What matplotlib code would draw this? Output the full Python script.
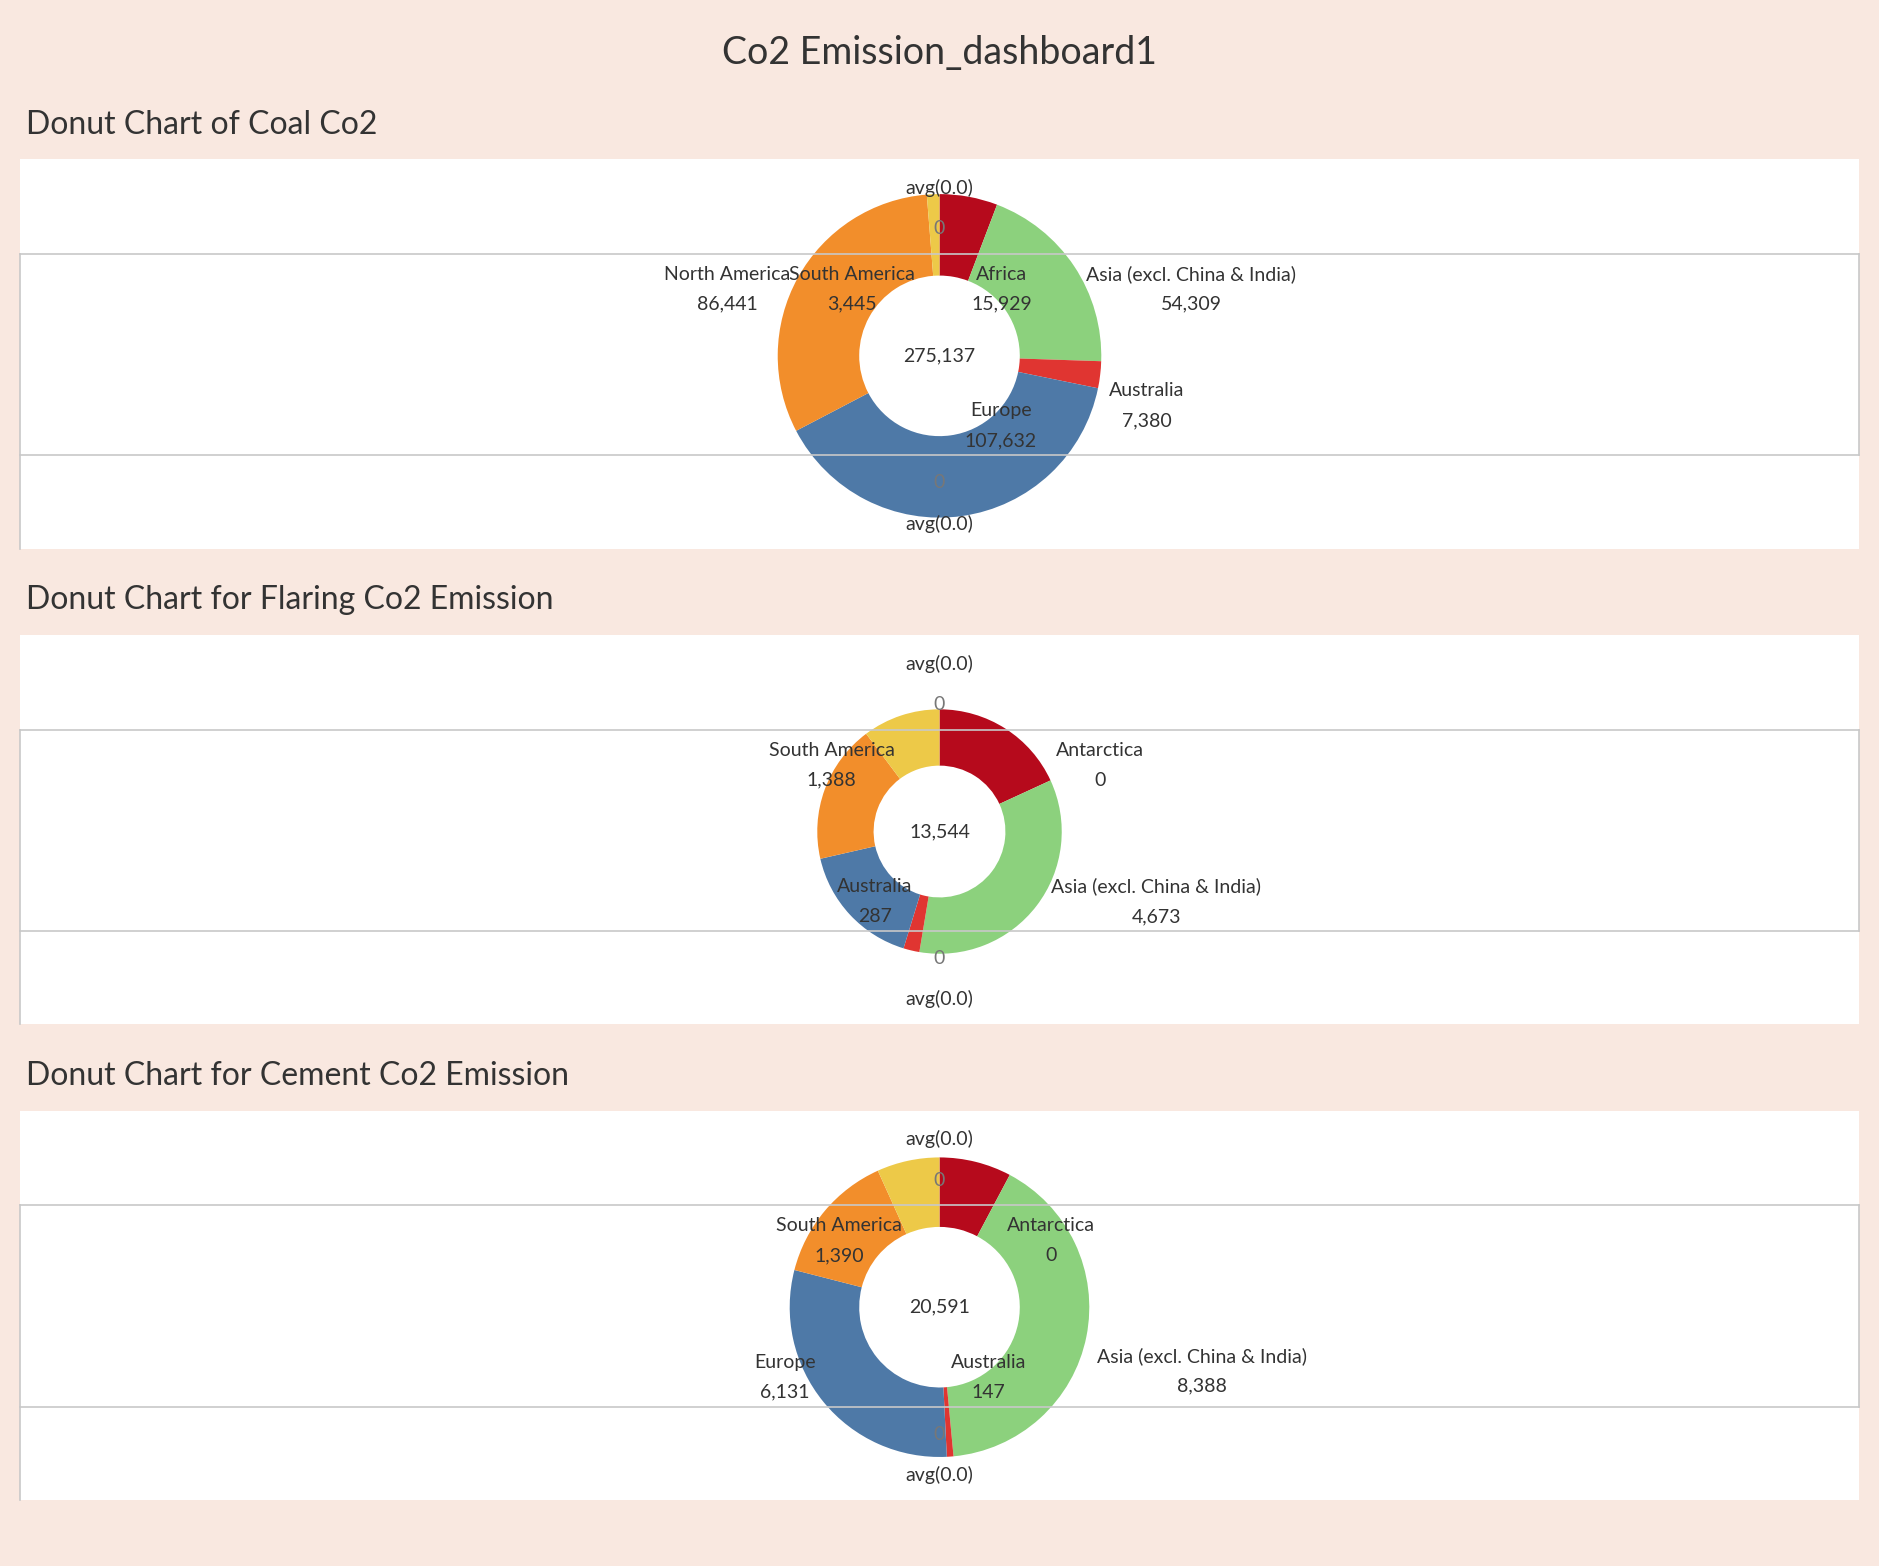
import numpy as np
import matplotlib
matplotlib.use("Agg")
from matplotlib import pyplot as plt
from matplotlib.patches import Rectangle

plt.rcParams['font.family'] = ['Lato', 'DejaVu Sans']

# data, clockwise from 12 o'clock
regions = ['Africa', 'Asia (excl. China & India)', 'Australia', 'Europe',
           'North America', 'South America']
colors = ['#B60A1C', '#8CD17D', '#E03531', '#4E79A7', '#F28E2B', '#EDC948']

coal = [15929, 54309, 7380, 107632, 86441, 3445]
coal_total = 275137
coal_shown = ['Africa', 'Asia (excl. China & India)', 'Australia', 'Europe',
              'North America', 'South America']

flaring = [2456, 4673, 287, 2257, 2483, 1388]
flaring_total = 13544
flaring_shown = ['Antarctica', 'Asia (excl. China & India)', 'Australia', 'South America']

cement = [1600, 8388, 147, 6131, 2935, 1390]
cement_total = 20591
cement_shown = ['Antarctica', 'Asia (excl. China & India)', 'Australia', 'Europe', 'South America']

titles = ['Donut Chart of Coal Co2', 'Donut Chart for Flaring Co2 Emission',
          'Donut Chart for Cement Co2 Emission']

W, H = 1568.0, 1307.0
BG = '#F9E8E0'
fig = plt.figure(figsize=(18.79, 15.66), dpi=100, facecolor=BG)


def fx(x):
    return x / W


def fy(y):
    return 1 - y / H


fig.text(0.5, fy(44), 'Co2 Emission_dashboard1', ha='center', va='center',
         fontsize=27, color='#333333')

# donut geometry (reference pixels)
radii = [135, 102, 125]
holes = [67, 55, 67]
# label offsets (in reference pixels, relative to donut centre) per region
label_pos = [
    {'Africa': (52, -56), 'Asia (excl. China & India)': (210, -56), 'Australia': (173, 41),
     'Europe': (51, 58), 'North America': (-177, -56), 'South America': (-73, -56)},
    {'Antarctica': (134, -56), 'Asia (excl. China & India)': (181, 58), 'Australia': (-54, 58),
     'South America': (-90, -56)},
    {'Antarctica': (93, -56), 'Asia (excl. China & India)': (219, 53), 'Australia': (41, 58),
     'Europe': (-129, 58), 'South America': (-84, -56)},
]
datasets = [(coal, coal_total, coal_shown), (flaring, flaring_total, flaring_shown),
            (cement, cement_total, cement_shown)]
FS = 14

for i, (vals, total, shown) in enumerate(datasets):
    off = 397 * i
    x0, x1 = 17, 1551
    top, mid1, mid2, bot = 133 + off, 212 + off, 380 + off, 458 + off
    fig.text(fx(22), fy(104 + off), titles[i], ha='left', va='center',
             fontsize=23, color='#333333')
    fig.patches.append(Rectangle((fx(x0), fy(bot)), fx(x1 - x0), (bot - top) / H,
                                 transform=fig.transFigure, facecolor='white',
                                 edgecolor='none', zorder=-5))
    for yy in (mid1, mid2):
        fig.lines.append(plt.Line2D([fx(x0), fx(x1)], [fy(yy), fy(yy)],
                                    transform=fig.transFigure, color='#C8C8C8', lw=1.2))
    fig.lines.append(plt.Line2D([fx(x0), fx(x0)], [fy(mid1), fy(bot)],
                                transform=fig.transFigure, color='#C8C8C8', lw=1.2))
    fig.lines.append(plt.Line2D([fx(x1), fx(x1)], [fy(mid1), fy(mid2)],
                                transform=fig.transFigure, color='#C8C8C8', lw=1.2))
    fig.text(0.5, fy(157 + off), 'avg(0.0)', ha='center', va='center', fontsize=FS, color='#333333')
    fig.text(0.5, fy(191 + off), '0', ha='center', va='center', fontsize=FS, color='#777777')
    fig.text(0.5, fy(403 + off), '0', ha='center', va='center', fontsize=FS, color='#777777')
    fig.text(0.5, fy(437 + off), 'avg(0.0)', ha='center', va='center', fontsize=FS, color='#333333')

    ax = fig.add_axes([fx(x0), fy(mid2), fx(x1 - x0), (mid2 - mid1) / H], zorder=2)
    ax.patch.set_alpha(0)
    cx, cy = 784 - x0, mid2 - (297 + off)
    r = radii[i]
    ax.pie(vals, colors=colors, startangle=90, counterclock=False,
           center=(cx, cy), radius=r, frame=True,
           wedgeprops=dict(width=r - holes[i], edgecolor='none'))
    ax.set_xlim(0, x1 - x0)
    ax.set_ylim(0, mid2 - mid1)
    ax.set_aspect('auto')
    ax.axis('off')
    ax.text(cx, cy, f'{total:,}', ha='center', va='center', fontsize=FS, color='#333333')
    lookup = dict(zip(regions, vals))
    for name in shown:
        dx, dy = label_pos[i][name]
        v = lookup.get(name, 0)
        ax.text(cx + dx, cy - dy + 12, name, ha='center', va='center', fontsize=FS,
                color='#333333', clip_on=False)
        ax.text(cx + dx, cy - dy - 13, f'{v:,}', ha='center', va='center', fontsize=FS,
                color='#333333', clip_on=False)

fig.savefig('out.png', dpi=100, facecolor=BG)
